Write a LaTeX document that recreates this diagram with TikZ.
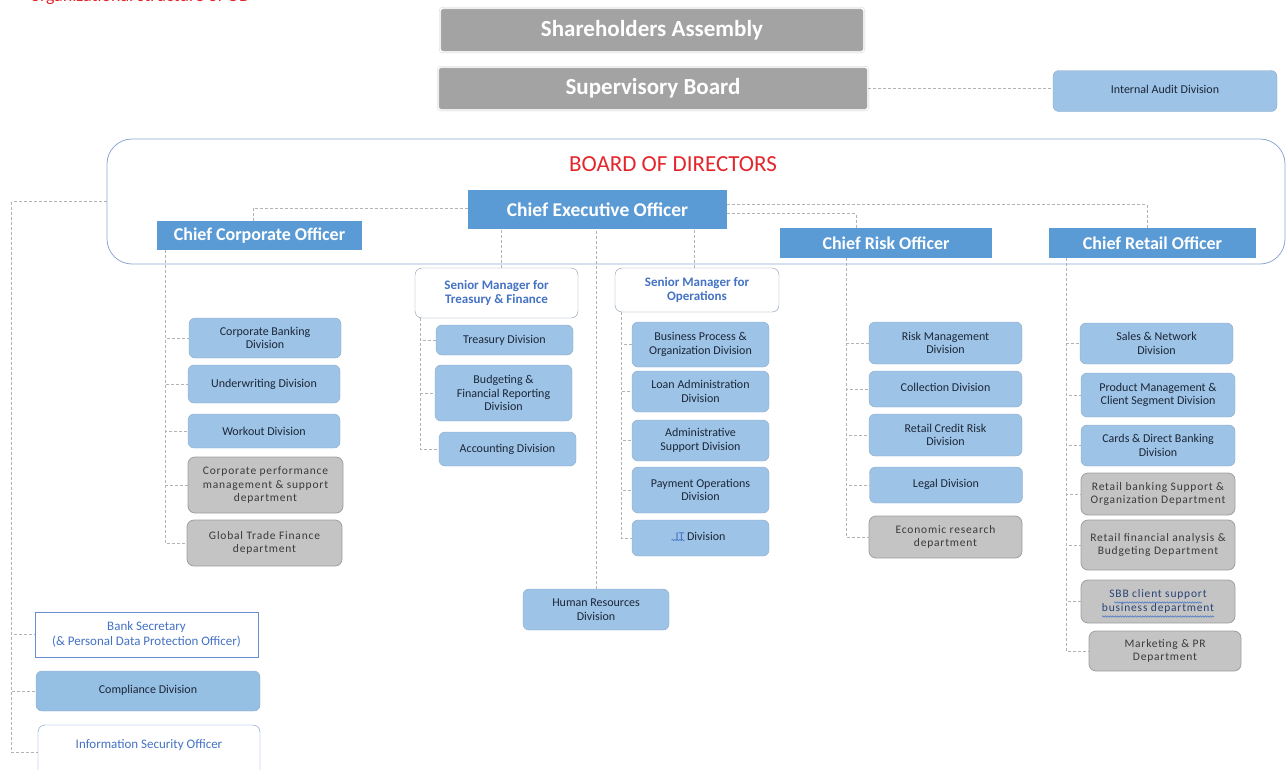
\documentclass[tikz,border=0pt]{standalone}
\usepackage{fontspec}
\setmainfont{Carlito}
\newfontfamily\deptfont[LetterSpace=7]{Carlito}
\usetikzlibrary{decorations.pathmorphing}
\definecolor{topgray}{HTML}{A3A3A3}
\definecolor{chiefblue}{HTML}{5B9BD5}
\definecolor{divblue}{HTML}{9DC3E6}
\definecolor{divline}{HTML}{8FAAC8}
\definecolor{divtext}{HTML}{1C2638}
\definecolor{deptgray}{HTML}{C4C4C4}
\definecolor{depttext}{HTML}{3A3A3A}
\definecolor{mgrline}{HTML}{8497B0}
\definecolor{mgrtext}{HTML}{4472C4}
\definecolor{boardline}{HTML}{8FA7D0}
\definecolor{titlered}{HTML}{E3262B}
\begin{document}
\begin{tikzpicture}[x=1pt,y=-1pt,
  link/.style={draw=gray!60, dash pattern=on 3pt off 2pt, line width=0.6pt},
  squiggle/.style={draw=mgrtext, line width=0.5pt, decorate, decoration={snake, amplitude=0.7pt, segment length=2.5pt}},
  topbox/.style={fill=topgray, draw=gray!40, double=white, double distance=1.2pt, rounded corners=3pt,
    text=white, font=\fontsize{23}{25}\selectfont\bfseries},
  chief/.style={fill=chiefblue, text=white, font=\fontsize{18}{20}\selectfont\bfseries, inner sep=0pt},
  divbox/.style={fill=divblue, draw=divline, rounded corners=6pt, text=divtext, align=center,
    font=\fontsize{12}{13.5}\selectfont, inner sep=0pt},
  deptbox/.style={fill=deptgray, draw=gray!75, line width=0.8pt, rounded corners=7pt, text=depttext,
    align=center, font=\deptfont\fontsize{11.5}{13.5}\selectfont, inner sep=0pt},
  mgrbox/.style={fill=white, draw=mgrline, rounded corners=7pt, text=mgrtext, align=center,
    font=\fontsize{13}{14.5}\selectfont\bfseries, inner sep=0pt},
  outbox/.style={fill=white, draw=mgrtext!80, text=mgrtext, align=center,
    font=\fontsize{13}{14.5}\selectfont, inner sep=0pt},
]
\useasboundingbox (0,0) rectangle (1287,769);

% title, cut off at the top
\node[anchor=base west, text=titlered, font=\fontsize{18}{20}\selectfont] (ttl) at (27,1) {organizational structure of OB};

% owners and supervision
\node[topbox, minimum width=424, minimum height=44] (sha) at (652,30) {Shareholders Assembly};
\node[topbox, minimum width=430, minimum height=43] (sup) at (653,88.5) {Supervisory Board};
\node[divbox, minimum width=224, minimum height=41] (iad) at (1165,91) {\raisebox{4pt}{Internal Audit Division}};
\draw[link] (sup.east) -- (sup.east -| iad.west);

% board of directors
\node[draw=boardline, line width=0.8pt, rounded corners=25pt, minimum width=1178, minimum height=125] (board) at (696,201.5) {};
\node[text=titlered, font=\fontsize{23}{25}\selectfont] (bod) at (673,164) {BOARD OF DIRECTORS};
\node[chief, minimum width=259, minimum height=39, font=\fontsize{19.5}{21}\selectfont\bfseries] (ceo) at (597.5,209.5) {Chief Executive Officer};
\node[chief, minimum width=205, minimum height=29] (cco) at (259.5,235.5) {Chief Corporate Officer};
\node[chief, minimum width=212, minimum height=30] (cro) at (886,243) {Chief Risk Officer};
\node[chief, minimum width=207, minimum height=30] (crt) at (1152.5,243) {Chief Retail Officer};

\draw[link] ([yshift=1.5]ceo.west) -| ([xshift=-6.5]cco.north);
\draw[link] ([yshift=5]ceo.east) -| ([xshift=-5.5]crt.north);
\draw[link] ([yshift=-4]ceo.east) -| ([xshift=-30]cro.north);

% senior managers
\node[mgrbox, minimum width=163, minimum height=50] (smt) at (496.5,293) {Senior Manager for\\Treasury \& Finance};
\node[mgrbox, minimum width=164, minimum height=44] (smo) at (697,290) {Senior Manager for\\Operations};
\node[divbox, minimum width=146, minimum height=41] (hrd) at (596,609.5) {Human Resources\\Division};
\draw[link] ([xshift=4.5]smt.north) -- ([xshift=4.5]smt.north |- ceo.south);
\draw[link] ([xshift=-3]smo.north) -- ([xshift=-3]smo.north |- ceo.south);
\draw[link] (hrd.north) -- (hrd.north |- ceo.south);

% corporate
\node[divbox, minimum width=152, minimum height=40] (cbd) at (265,338) {Corporate Banking\\Division};
\node[divbox, minimum width=152, minimum height=38] (und) at (264,384) {Underwriting Division};
\node[divbox, minimum width=152, minimum height=34] (wod) at (264,431) {Workout Division};
\node[deptbox, minimum width=155, minimum height=56] (cpm) at (265.5,485) {Corporate performance\\management \& support\\department};
\node[deptbox, minimum width=155, minimum height=46] (gtf) at (264.5,543) {Global Trade Finance\\department};
\coordinate (ccot) at (165,250);
\foreach \n in {cbd,und,wod,cpm,gtf}
  \draw[link] (ccot) |- (\n.west);

% treasury and finance
\node[divbox, minimum width=137, minimum height=30] (trd) at (504.5,340) {Treasury Division};
\node[divbox, minimum width=137, minimum height=56] (bfr) at (503.5,393) {Budgeting \&\\Financial Reporting\\Division};
\node[divbox, minimum width=137, minimum height=34] (acd) at (507.5,449) {Accounting Division};
\coordinate (smtt) at (420,318);
\foreach \n in {trd,bfr,acd}
  \draw[link] (smtt) |- (\n.west);

% operations
\node[divbox, minimum width=137, minimum height=45] (bpo) at (700.5,344.5) {Business Process \&\\Organization Division};
\node[divbox, minimum width=137, minimum height=41] (lad) at (700.5,391.5) {Loan Administration\\Division};
\node[divbox, minimum width=137, minimum height=41] (asd) at (700.5,440.5) {Administrative\\Support Division};
\node[divbox, minimum width=137, minimum height=46] (pod) at (700.5,490) {Payment Operations\\Division};
\node[divbox, minimum width=137, minimum height=36] (itd) at (700.5,538) {\raisebox{3pt}{{\color{mgrtext}IT} Division}};
\draw[squiggle] ([xshift=-29,yshift=-2]itd.center) -- ([xshift=-16,yshift=-2]itd.center);
\coordinate (smot) at (621,312);
\foreach \n in {bpo,lad,asd,pod,itd}
  \draw[link] (smot) |- (\n.west);

% risk
\node[divbox, minimum width=153, minimum height=42] (rmd) at (945.5,343) {Risk Management\\Division};
\node[divbox, minimum width=153, minimum height=36] (cod) at (945.5,389) {\raisebox{3pt}{Collection Division}};
\node[divbox, minimum width=153, minimum height=42] (rcr) at (945.5,435) {Retail Credit Risk\\Division};
\node[divbox, minimum width=153, minimum height=36] (leg) at (946,485) {\raisebox{3pt}{Legal Division}};
\node[deptbox, minimum width=153, minimum height=42] (erd) at (945.5,537) {Economic research\\department};
\coordinate (crot) at (846,258);
\foreach \n in {rmd,cod,rcr,leg,erd}
  \draw[link] (crot) |- (\n.west);

% retail
\node[divbox, minimum width=153, minimum height=41] (snd) at (1156.5,343.5) {Sales \& Network\\Division};
\node[divbox, minimum width=154, minimum height=44] (pmc) at (1158,395) {Product Management \&\\Client Segment Division};
\node[divbox, minimum width=154, minimum height=41] (cdb) at (1158,445.5) {Cards \& Direct Banking\\Division};
\node[deptbox, minimum width=154, minimum height=42] (rbs) at (1158,494) {Retail banking Support \&\\Organization Department};
\node[deptbox, minimum width=154, minimum height=50] (rfa) at (1158,545) {Retail financial analysis \&\\Budgeting Department};
\node[deptbox, minimum width=154, minimum height=43, text=mgrtext!60!black] (sbb) at (1158,601.5) {SBB client support\\business department};
\draw[squiggle] ([xshift=-44,yshift=-1]sbb.center) -- ([xshift=44,yshift=-1]sbb.center);
\draw[squiggle] ([xshift=-56,yshift=-15]sbb.center) -- ([xshift=56,yshift=-15]sbb.center);
\node[deptbox, minimum width=152, minimum height=40] (mpr) at (1165,651) {Marketing \& PR\\Department};
\coordinate (crtt) at (1066,258);
\foreach \n in {snd,pmc,cdb,rbs,rfa,sbb,mpr}
  \draw[link] (crtt) |- (\n.west);

% reporting to the board
\node[outbox, minimum width=223, minimum height=45] (bsec) at (146.5,634.5) {Bank Secretary\\(\& Personal Data Protection Officer)};
\node[divbox, minimum width=224, minimum height=40, fill=divblue!90!chiefblue] (cmp) at (148,691) {\raisebox{3pt}{Compliance Division}};
\node[outbox, rounded corners=7pt, minimum width=222, minimum height=54, text depth=0pt] (iso) at (149,752) {\raisebox{16pt}{Information Security Officer}};
\coordinate (lt) at ([xshift=-95]board.west);
\draw[link] (board.west) -- (lt);
\foreach \n in {bsec,cmp,iso}
  \draw[link] (lt) |- (\n.west);
\end{tikzpicture}
\end{document}
